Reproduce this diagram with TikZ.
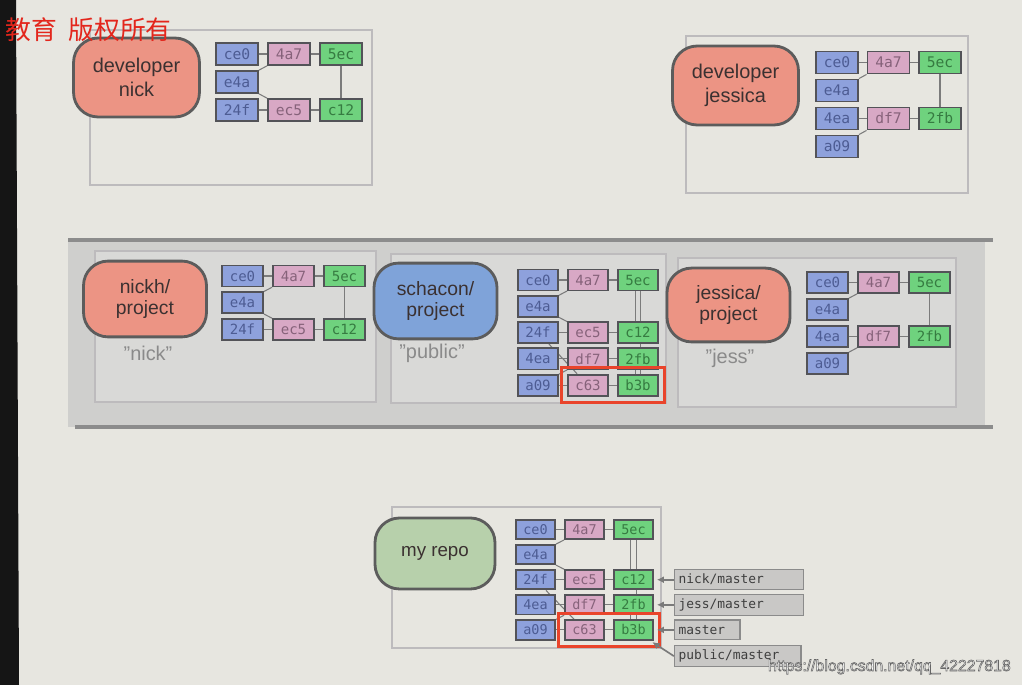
\documentclass[tikz,border=0pt]{standalone}
\usepackage{fontspec}
\setmainfont{Liberation Sans}
\setmonofont{DejaVu Sans Mono}
\newfontfamily\cjkfont{Noto Sans CJK SC}
\usepackage{tikz}
\usetikzlibrary{positioning,fit,calc,arrows.meta}

\definecolor{paper}{HTML}{E7E6E0}
\definecolor{bezel}{HTML}{151515}
\definecolor{bandfill}{HTML}{CFCFCD}
\definecolor{bandline}{HTML}{8C8C8C}
\definecolor{panelfill}{HTML}{D9D9D7}
\definecolor{panelline}{HTML}{BDBBBD}
\definecolor{devred}{HTML}{EC9484}
\definecolor{pubblue}{HTML}{7FA3D9}
\definecolor{mygreen}{HTML}{B7D0AB}
\definecolor{pillline}{HTML}{5C5C5C}
\definecolor{pilltext}{HTML}{3B3131}
\definecolor{nicktext}{HTML}{8A8A8A}
\definecolor{blobfill}{HTML}{8EA1DC}
\definecolor{blobtext}{HTML}{4D5C93}
\definecolor{treefill}{HTML}{D8A8C5}
\definecolor{treetext}{HTML}{86627A}
\definecolor{commitfill}{HTML}{6FD27E}
\definecolor{committext}{HTML}{367B41}
\definecolor{boxline}{HTML}{535358}
\definecolor{linkgray}{HTML}{7B7B7B}
\definecolor{hired}{HTML}{E9442B}
\definecolor{reffill}{HTML}{C9C8C6}
\definecolor{refline}{HTML}{8B8B8B}
\definecolor{reftext}{HTML}{3E3E3E}
\definecolor{ptrgray}{HTML}{7A7A7A}
\definecolor{wmred}{HTML}{E3261C}

\pgfdeclarelayer{back}
\pgfdeclarelayer{links}
\pgfsetlayers{back,links,main}

% objects every copy of the project has
\newcommand{\rootpart}[1]{%
  \node[blobbox]   (#1-ce0) at (0,0) {ce0};
  \node[treebox]   (#1-4a7) at (1,0) {4a7};
  \node[commitbox] (#1-5ec) at (2,0) {5ec};
  \node[blobbox]   (#1-e4a) at (0,1) {e4a};
  \begin{pgfonlayer}{links}
  \path[link] (#1-ce0) edge (#1-4a7)
              (#1-4a7) edge (#1-5ec)
              (#1-e4a) edge (#1-4a7);
  \end{pgfonlayer}}

% nick's commit
\newcommand{\nickpart}[2]{%
  \node[blobbox]   (#1-24f) at (0,#2) {24f};
  \node[treebox]   (#1-ec5) at (1,#2) {ec5};
  \node[commitbox] (#1-c12) at (2,#2) {c12};
  \begin{pgfonlayer}{links}
  \path[link] (#1-24f) edge (#1-ec5)
              (#1-ec5) edge (#1-c12)
              (#1-e4a) edge (#1-ec5);
  \end{pgfonlayer}}

% jessica's commit
\newcommand{\jesspart}[2]{%
  \node[blobbox]   (#1-4ea) at (0,#2) {4ea};
  \node[treebox]   (#1-df7) at (1,#2) {df7};
  \node[commitbox] (#1-2fb) at (2,#2) {2fb};
  \node[blobbox]   (#1-a09) at (0,#2+1) {a09};
  \begin{pgfonlayer}{links}
  \path[link] (#1-4ea) edge (#1-df7)
              (#1-df7) edge (#1-2fb)
              (#1-a09) edge (#1-df7);
  \end{pgfonlayer}}

% the merge
\newcommand{\mergepart}[1]{%
  \node[treebox]   (#1-c63) at (1,4) {c63};
  \node[commitbox] (#1-b3b) at (2,4) {b3b};
  \node[hilite, fit=(#1-c63)(#1-b3b)] (#1-new) {};
  \begin{pgfonlayer}{links}
  \path[link] (#1-24f) edge (#1-c63)
              (#1-a09) edge (#1-c63)
              (#1-c63) edge (#1-b3b)
              ([xshift=-2.5pt]#1-5ec.center) edge ([xshift=-2.5pt]#1-c12.center)
              ([xshift=2.5pt]#1-5ec.center) edge ([xshift=2.5pt]#1-2fb.center)
              ([xshift=2.5pt]#1-c12.center) edge ([xshift=2.5pt]#1-b3b.center)
              ([xshift=-2.5pt]#1-2fb.center) edge ([xshift=-2.5pt]#1-b3b.center);
  \end{pgfonlayer}}

\begin{document}
\begin{tikzpicture}[x=0.03cm,y=-0.03cm,
    cell/.style={draw=boxline, line width=1.6pt, inner sep=0pt,
      minimum width=35pt, minimum height=18pt,
      font=\ttfamily\fontsize{12}{12}\selectfont},
    blobbox/.style={cell, fill=blobfill, text=blobtext},
    treebox/.style={cell, fill=treefill, text=treetext},
    commitbox/.style={cell, fill=commitfill, text=committext},
    link/.style={draw=linkgray, line width=0.9pt},
    pill/.style={draw=pillline, line width=2.4pt, rounded corners=21pt,
      align=center, text=pilltext, minimum width=107.5pt, minimum height=67.4pt,
      font=\fontsize{17}{20}\selectfont},
    nickname/.style={text=nicktext, font=\fontsize{17}{20}\selectfont},
    hilite/.style={draw=hired, line width=2.6pt, inner sep=5pt},
    panel/.style={draw=panelline, line width=1.2pt},
    refbox/.style={draw=refline, fill=reffill, line width=1pt, text=reftext,
      font=\ttfamily\fontsize{11}{11}\selectfont, text width=#1, align=left,
      minimum height=17pt, inner sep=3.5pt},
    pointer/.style={draw=ptrgray, fill=ptrgray, line width=1.4pt,
      -{Latex[length=6pt,width=6pt]}, shorten >=2.5pt}]

  \useasboundingbox (0,0) rectangle (1022,685);

  \begin{pgfonlayer}{back}
    \fill[paper] (0,0) rectangle (1022,685);
    \fill[bezel] (0,0) -- (16,0) -- (19,685) -- (0,685) -- cycle;
    \draw[panel] (90,30) rectangle (372,185);
    \draw[panel] (686,36) rectangle (968,193);
    \fill[bandfill] (68,240) rectangle (985,427);
    \draw[bandline, line width=3.4pt] (68,240) -- (993,240);
    \draw[bandline, line width=3.8pt] (75,427) -- (993,427);
    \draw[panel, fill=panelfill] (95,251) rectangle (376,402);
    \draw[panel, fill=panelfill] (391,254) rectangle (666,403);
    \draw[panel, fill=panelfill] (678,258) rectangle (956,407);
    \draw[panel] (392,507) rectangle (661,648);
  \end{pgfonlayer}

  % developer nick
  \node[pill, fill=devred] (devnick) at (136.5,77.5) {developer\\nick};
  \begin{scope}[shift={(237,54)}, x=1.56cm, y=-0.84cm,
      cell/.append style={minimum width=35.9pt, minimum height=18.8pt,
        font=\ttfamily\fontsize{12.5}{12.5}\selectfont}]
    \rootpart{tn}
    \nickpart{tn}{2}
    \begin{pgfonlayer}{links}
      \path[link] (tn-5ec) edge (tn-c12);
    \end{pgfonlayer}
  \end{scope}

  % developer jessica
  \node[pill, fill=devred] (devjess) at (735.5,85.5) {developer\\jessica};
  \begin{scope}[shift={(837,62.5)}, x=1.545cm, y=-0.84cm,
      cell/.append style={minimum width=35.9pt, minimum height=18.8pt,
        font=\ttfamily\fontsize{12.5}{12.5}\selectfont}]
    \rootpart{tj}
    \jesspart{tj}{2}
    \begin{pgfonlayer}{links}
      \path[link] (tj-5ec) edge (tj-2fb);
    \end{pgfonlayer}
  \end{scope}

  % shared repositories
  \node[pill, fill=devred, minimum width=105pt, minimum height=64.7pt,
    font=\fontsize{16.5}{18.5}\selectfont] (nickproj) at (145,299) {nickh/\\project};
  \node[nickname] (nicklbl) at (148,353) {"nick"};
  \begin{scope}[shift={(242.5,276)}, x=1.53cm, y=-0.8025cm]
    \rootpart{mn}
    \nickpart{mn}{2}
    \begin{pgfonlayer}{links}
      \path[link] (mn-5ec) edge (mn-c12);
    \end{pgfonlayer}
  \end{scope}

  \node[pill, fill=pubblue, minimum width=105pt, minimum height=64.7pt,
    font=\fontsize{16.5}{18.5}\selectfont] (pubproj) at (435.5,301) {schacon/\\project};
  \node[nickname] (publbl) at (432,353) {"public"};
  \begin{scope}[shift={(538,280)}, x=1.5cm, y=-0.789cm,
      cell/.append style={minimum width=34.1pt}]
    \rootpart{pub}
    \nickpart{pub}{2}
    \jesspart{pub}{3}
    \mergepart{pub}
  \end{scope}

  \node[pill, fill=devred, minimum width=105pt, minimum height=63pt,
    font=\fontsize{16.5}{18.5}\selectfont] (jessproj) at (728.5,305) {jessica/\\project};
  \node[nickname] (jesslbl) at (730,358) {"jess"};
  \begin{scope}[shift={(827.5,282.5)}, x=1.53cm, y=-0.81cm]
    \rootpart{mj}
    \jesspart{mj}{2}
    \begin{pgfonlayer}{links}
      \path[link] (mj-5ec) edge (mj-2fb);
    \end{pgfonlayer}
  \end{scope}

  % my repo
  \node[pill, fill=mygreen, minimum width=102.4pt, minimum height=60.6pt,
    font=\fontsize{16}{18}\selectfont] (myrepo) at (435,553.5) {my repo};
  \begin{scope}[shift={(535.5,529.5)}, x=1.47cm, y=-0.753cm,
      cell/.append style={minimum width=33.3pt, minimum height=16.6pt,
        font=\ttfamily\fontsize{11.5}{11.5}\selectfont}]
    \rootpart{my}
    \nickpart{my}{2}
    \jesspart{my}{3}
    \mergepart{my}
  \end{scope}

  \node[refbox=103pt, right=17pt of my-c12] (nickmaster) {nick/master};
  \node[refbox=103pt, right=17pt of my-2fb] (jessmaster) {jess/master};
  \node[refbox=49pt, right=17pt of my-b3b] (master) {master};
  \node[refbox=101pt, below right=4pt and 0pt of master.south west] (publicmaster) {public/master};
  \draw[pointer] (nickmaster) -- (my-c12);
  \draw[pointer] (jessmaster) -- (my-2fb);
  \draw[pointer] (master) -- (my-b3b);
  \draw[pointer] (publicmaster.west) -- (my-b3b);

  % watermarks
  \node[anchor=base east, inner sep=0pt, text=wmred,
    font=\cjkfont\fontsize{22}{22}\selectfont] (wmcn) at (172,40) {教育\hspace{0.45em}版权所有};
  \node[anchor=base east, inner sep=0pt, text=white,
    font=\fontsize{13.5}{13.5}\selectfont] (wmurl) at (1011,671)
    {\special{pdf:literal direct 0.4 0.4 0.4 RG 0.5 w 2 Tr}https://blog.csdn.net/qq\_42227818\special{pdf:literal direct 0 Tr}};
\end{tikzpicture}
\end{document}
